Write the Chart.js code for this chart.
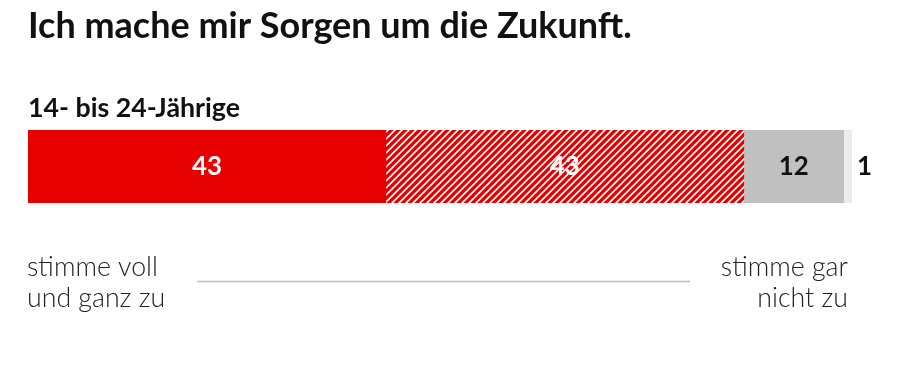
<!DOCTYPE html>
<html>
<head>
<meta charset="utf-8">
<script src="https://cdn.jsdelivr.net/npm/chart.js@4.4.1/dist/chart.umd.min.js"></script>
<style>
  html, body { margin: 0; padding: 0; background: #fff; }
  #wrap { position: relative; width: 897px; height: 367px; }
</style>
</head>
<body>
<div id="wrap"><canvas id="c" width="897" height="367"></canvas></div>
<script>
const title = "Ich mache mir Sorgen um die Zukunft.";
const groupLabels = ["14- bis 24-Jährige"];
const seriesNames = ["stimme voll und ganz zu", "stimme eher zu", "stimme eher nicht zu", "stimme gar nicht zu"];
const voll = [43];
const eher = [43];
const eherNicht = [12];
const garNicht = [1];
const leftLabel = ["stimme voll", "und ganz zu"];
const rightLabel = ["stimme gar", "nicht zu"];

function hatch() {
  const s = 7;
  const cv = document.createElement('canvas');
  cv.width = s; cv.height = s;
  const g = cv.getContext('2d');
  g.fillStyle = '#e60000';
  g.fillRect(0, 0, s, s);
  g.strokeStyle = '#ffffff';
  g.lineWidth = 1.6;
  g.beginPath();
  g.moveTo(-1, s + 1); g.lineTo(s + 1, -1);
  g.moveTo(-1, 1); g.lineTo(1, -1);
  g.moveTo(s - 1, s + 1); g.lineTo(s + 1, s - 1);
  g.stroke();
  return g.createPattern(cv, 'repeat');
}

function fitFont(c, text, weight, family, width) {
  c.font = weight + ' 100px ' + family;
  const w = c.measureText(text).width;
  const size = 100 * width / w;
  return weight + ' ' + size.toFixed(2) + 'px ' + family;
}

const ctx = document.getElementById('c').getContext('2d');

const textPlugin = {
  id: 'texts',
  afterDatasetsDraw(chart) {
    const c = chart.ctx;
    c.save();
    c.fillStyle = '#111';
    c.textBaseline = 'alphabetic';
    c.textAlign = 'left';
    c.font = fitFont(c, title, 'bold', 'Lato', 604);
    c.fillText(title, 28, 38);
    c.font = fitFont(c, groupLabels[0], 'bold', 'Lato', 212);
    c.fillText(groupLabels[0], 28, 117);
    // value labels
    const metas = chart.data.datasets.map((d, i) => chart.getDatasetMeta(i));
    c.textBaseline = 'alphabetic';
    c.font = fitFont(c, '43', 'bold', 'Lato', 30);
    metas.forEach((m, i) => {
      const el = m.data[0];
      const v = chart.data.datasets[i].data[0];
      const left = Math.min(el.x, el.base), right = Math.max(el.x, el.base);
      if (i === 3) {
        c.fillStyle = '#111';
        c.textAlign = 'left';
        c.fillText(String(v), right + 5, 175);
      } else {
        c.fillStyle = i < 2 ? '#fff' : '#111';
        c.textAlign = 'center';
        c.fillText(String(v), (left + right) / 2, 175);
      }
    });
    // bottom labels
    c.fillStyle = '#222';
    c.font = fitFont(c, leftLabel[0], '300', 'Lato', 131);
    c.textAlign = 'left';
    c.fillText(leftLabel[0], 27, 276);
    c.fillText(leftLabel[1], 27, 307);
    c.textAlign = 'right';
    c.fillText(rightLabel[0], 848, 276);
    c.fillText(rightLabel[1], 848, 307);
    c.strokeStyle = '#bdbdbd';
    c.lineWidth = 1.5;
    c.beginPath();
    c.moveTo(197, 281.5);
    c.lineTo(690, 281.5);
    c.stroke();
    c.restore();
  }
};

new Chart(ctx, {
  type: 'bar',
  data: {
    labels: groupLabels,
    datasets: [
      { label: seriesNames[0], data: voll, backgroundColor: '#e60000' },
      { label: seriesNames[1], data: eher, backgroundColor: hatch() },
      { label: seriesNames[2], data: eherNicht, backgroundColor: '#c0c0c0' },
      { label: seriesNames[3], data: garNicht, backgroundColor: '#ebebeb' }
    ]
  },
  options: {
    indexAxis: 'y',
    responsive: false,
    animation: false,
    layout: { padding: { left: 28, right: 45, top: 130, bottom: 164 } },
    datasets: { bar: { barPercentage: 1, categoryPercentage: 1, borderWidth: 0 } },
    scales: {
      x: { stacked: true, min: 0, max: 99, display: false },
      y: { stacked: true, display: false }
    },
    plugins: { legend: { display: false }, tooltip: { enabled: false }, title: { display: false } }
  },
  plugins: [textPlugin]
});
</script>
</body>
</html>
